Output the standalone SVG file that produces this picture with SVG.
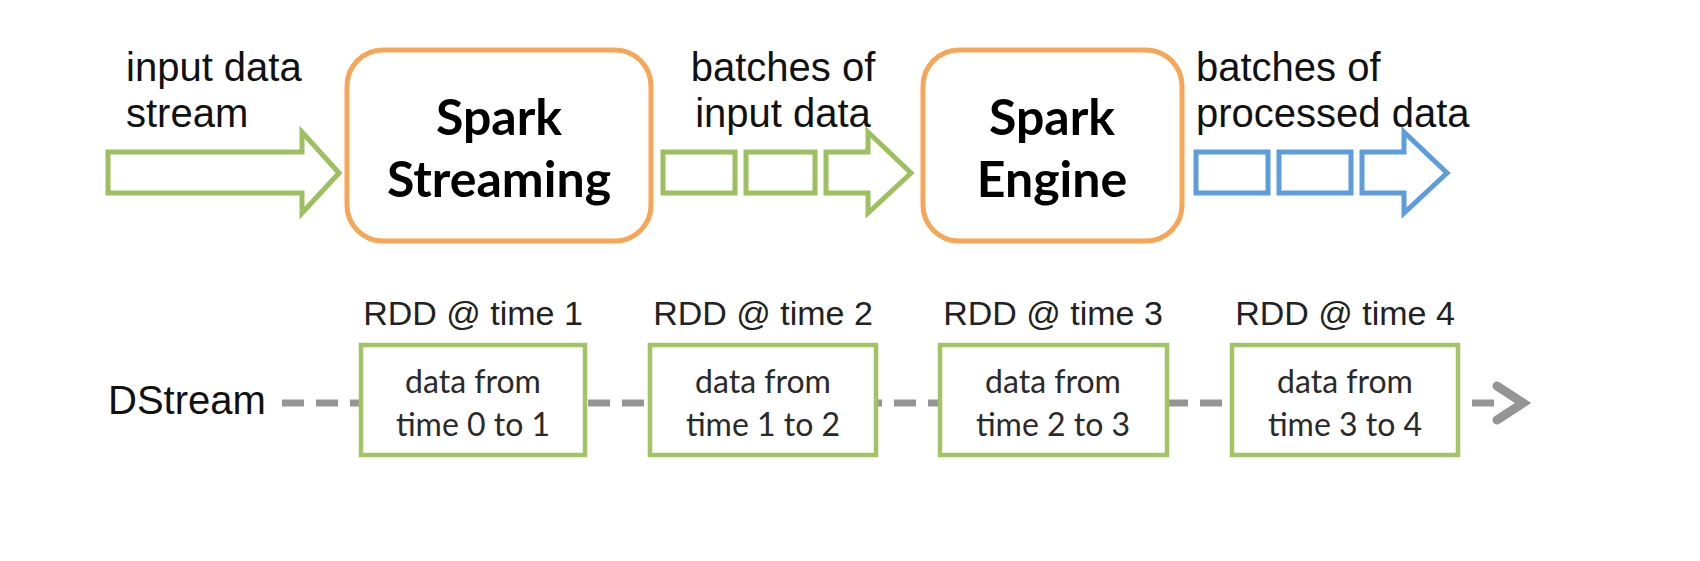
<svg xmlns="http://www.w3.org/2000/svg" width="1700" height="561" viewBox="0 0 1700 561">
<style>
.lbl{font-family:"Liberation Sans",Arial,sans-serif;font-size:40px;fill:#111}
.big{font-family:Lato,"Open Sans",sans-serif;font-weight:bold;font-size:50px;fill:#000;text-anchor:middle}
.rdd{font-family:"Liberation Sans",Arial,sans-serif;font-size:34px;fill:#222;text-anchor:middle}
.dat{font-family:Lato,"Open Sans",sans-serif;font-size:32px;fill:#2a2a2a;text-anchor:middle}
.proc{fill:#fff;stroke:#F7A556;stroke-width:5}
.g{fill:#fff;stroke:#9DC05E;stroke-width:5}
.b{fill:#fff;stroke:#5E9DDB;stroke-width:5}
.rddbox{fill:#fff;stroke:#A2C464;stroke-width:4.5}
</style>
<rect width="1700" height="561" fill="#fff"/>
<g id="labels">
<text class="lbl" x="126" y="81">input data</text>
<text class="lbl" x="126" y="127">stream</text>
<text class="lbl" x="783" y="81" text-anchor="middle">batches of</text>
<text class="lbl" x="783" y="127" text-anchor="middle">input data</text>
<text class="lbl" x="1196" y="81">batches of</text>
<text class="lbl" x="1196" y="127">processed data</text>
</g>
<g id="connectors">
<polygon class="g" points="108,152 302,152 302,132 339,173 302,213 302,193 108,193"/>
<rect class="g" x="663" y="152" width="72" height="41"/>
<rect class="g" x="746" y="152" width="69" height="41"/>
<polygon class="g" points="826,152 868,152 868,132 911,173 868,213 868,193 826,193"/>
<rect class="b" x="1196" y="152" width="72" height="41"/>
<rect class="b" x="1279" y="152" width="72" height="41"/>
<polygon class="b" points="1362,152 1404,152 1404,132 1447,173 1404,213 1404,193 1362,193"/>
<line x1="282" y1="403" x2="1497" y2="403" stroke="#959595" stroke-width="7" stroke-dasharray="22,12"/>
<polyline points="1497,386 1523,403 1497,420" fill="none" stroke="#959595" stroke-width="9" stroke-linecap="round"/>
</g>
<g id="spark-streaming">
<rect class="proc" x="347" y="50" width="304" height="191" rx="36"/>
<text class="big" x="499" y="135">Spark</text>
<text class="big" x="499" y="197">Streaming</text>
</g>
<g id="spark-engine">
<rect class="proc" x="923" y="50" width="259" height="191" rx="36"/>
<text class="big" x="1052" y="135">Spark</text>
<text class="big" x="1052" y="197">Engine</text>
</g>
<g id="dstream-label">
<text class="lbl" x="108" y="414" fill="#222">DStream</text>
</g>
<g id="rdd1">
<text class="rdd" x="473" y="325">RDD @ time 1</text>
<rect class="rddbox" x="361" y="345" width="224" height="110"/>
<text class="dat" x="473" y="393">data from</text>
<text class="dat" x="473" y="436">time 0 to 1</text>
</g>
<g id="rdd2">
<text class="rdd" x="763" y="325">RDD @ time 2</text>
<rect class="rddbox" x="650" y="345" width="226" height="110"/>
<text class="dat" x="763" y="393">data from</text>
<text class="dat" x="763" y="436">time 1 to 2</text>
</g>
<g id="rdd3">
<text class="rdd" x="1053" y="325">RDD @ time 3</text>
<rect class="rddbox" x="940" y="345" width="227" height="110"/>
<text class="dat" x="1053" y="393">data from</text>
<text class="dat" x="1053" y="436">time 2 to 3</text>
</g>
<g id="rdd4">
<text class="rdd" x="1345" y="325">RDD @ time 4</text>
<rect class="rddbox" x="1232" y="345" width="226" height="110"/>
<text class="dat" x="1345" y="393">data from</text>
<text class="dat" x="1345" y="436">time 3 to 4</text>
</g>
</svg>
